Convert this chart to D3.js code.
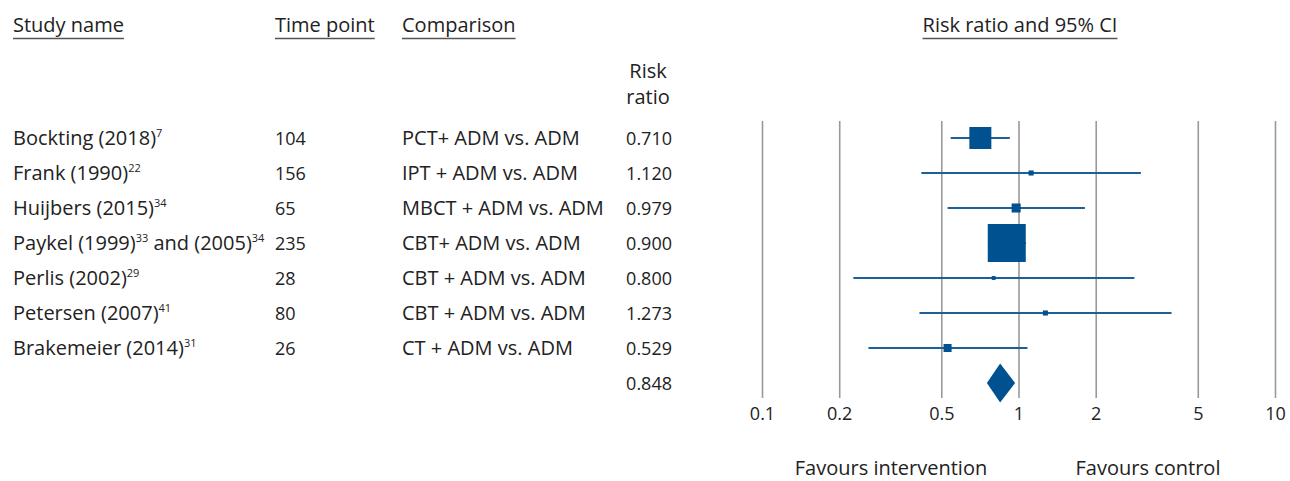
<!DOCTYPE html>
<html>
<head>
<meta charset="utf-8">
<script src="https://cdn.jsdelivr.net/npm/d3@7"></script>
<style>
  body { margin: 0; background: #fff; }
  svg text { font-family: "Open Sans", "Noto Sans", sans-serif; fill: #222; }
</style>
</head>
<body>
<svg id="chart" width="1290" height="481"></svg>
<script>
// study rows
var studies = ['Bockting (2018)', 'Frank (1990)', 'Huijbers (2015)', 'Paykel (1999)', 'Perlis (2002)', 'Petersen (2007)', 'Brakemeier (2014)'];
var refs = ['7', '22', '34', '33', '29', '41', '31'];
var timePoints = ['104', '156', '65', '235', '28', '80', '26'];
var comparisons = ['PCT+ ADM vs. ADM', 'IPT + ADM vs. ADM', 'MBCT + ADM vs. ADM', 'CBT+ ADM vs. ADM', 'CBT + ADM vs. ADM', 'CBT + ADM vs. ADM', 'CT + ADM vs. ADM'];
var riskRatios = [0.710, 1.120, 0.979, 0.900, 0.800, 1.273, 0.529];
var lowerCI = [0.544, 0.418, 0.529, 0.76, 0.227, 0.411, 0.260];
var upperCI = [0.925, 3.00, 1.815, 1.07, 2.83, 3.95, 1.084];
var weights = [22.6, 1.2, 3.8, 67.5, 0.7, 1.2, 3.0];

// pooled estimate
var summaryRR = 0.848;
var summaryLower = 0.753;
var summaryUpper = 0.970;

var axisTicks = [0.1, 0.2, 0.5, 1, 2, 5, 10];

var blue = '#00518f';
var textSize = 20;   // words
var numSize = 18;    // numbers (the original font has narrow digits)
var svg = d3.select('#chart');

var x = d3.scaleLog().domain([0.1, 10]).range([762, 1275]);
var rowKeys = d3.range(studies.length + 1);
var y = d3.scalePoint().domain(rowKeys).range([138, 383]);
var boxSize = d3.scaleSqrt().domain([0, d3.max(weights)]).range([0, 38]);

// column headers with underline
var headers = [
    { text: 'Study name', x: 13, anchor: 'start' },
    { text: 'Time point', x: 275, anchor: 'start' },
    { text: 'Comparison', x: 402, anchor: 'start' },
    { text: 'Risk ratio and 95% CI', x: 1020, anchor: 'middle' }
];
headers.forEach(function (h) {
    var t = svg.append('text').attr('x', h.x).attr('y', 32)
        .attr('font-size', textSize).attr('text-anchor', h.anchor).text(h.text);
    var bb = t.node().getBBox();
    svg.append('line').attr('x1', bb.x).attr('x2', bb.x + bb.width)
        .attr('y1', 38.5).attr('y2', 38.5).attr('stroke', '#555').attr('stroke-width', 1.5);
});

svg.append('text').attr('x', 648).attr('y', 78).attr('text-anchor', 'middle')
    .attr('font-size', textSize).text('Risk');
svg.append('text').attr('x', 648).attr('y', 104).attr('text-anchor', 'middle')
    .attr('font-size', textSize).text('ratio');

// table text
studies.forEach(function (name, i) {
    var yy = y(i) + 7;
    var t = svg.append('text').attr('x', 13).attr('y', yy).attr('font-size', textSize);
    t.append('tspan').text(name);
    t.append('tspan').attr('font-size', 11).attr('dy', -8).text(refs[i]);
    if (i === 3) {
        // Paykel has a second publication
        t.append('tspan').attr('dy', 8).text(' and (2005)');
        t.append('tspan').attr('font-size', 11).attr('dy', -8).text('34');
    }
    svg.append('text').attr('x', 275).attr('y', yy).attr('font-size', numSize).text(timePoints[i]);
    svg.append('text').attr('x', 402).attr('y', yy).attr('font-size', textSize).text(comparisons[i]);
    svg.append('text').attr('x', 672).attr('y', yy).attr('font-size', numSize)
        .attr('text-anchor', 'end').text(riskRatios[i].toFixed(3));
});
svg.append('text').attr('x', 672).attr('y', y(studies.length) + 7).attr('font-size', numSize)
    .attr('text-anchor', 'end').text(summaryRR.toFixed(3));

// gridlines
var grid = svg.append('g').attr('transform', 'translate(0,398)')
    .call(d3.axisBottom(x).tickValues(axisTicks).tickSize(-277).tickFormat(''));
grid.select('.domain').remove();
grid.selectAll('line').attr('stroke', '#999').attr('stroke-width', 1.6);

// tick labels
var ax = svg.append('g').attr('transform', 'translate(0,404)')
    .call(d3.axisBottom(x).tickValues(axisTicks).tickSize(0).tickFormat(d3.format('')));
ax.select('.domain').remove();
ax.selectAll('text').attr('font-size', numSize).attr('fill', '#222')
    .style('font-family', '"Open Sans", "Noto Sans", sans-serif');

// whiskers
svg.selectAll('line.ci').data(studies).enter().append('line').attr('class', 'ci')
    .attr('x1', function (d, i) { return x(lowerCI[i]); })
    .attr('x2', function (d, i) { return x(upperCI[i]); })
    .attr('y1', function (d, i) { return y(i); })
    .attr('y2', function (d, i) { return y(i); })
    .attr('stroke', '#1d5f99').attr('stroke-width', 2.2);

// boxes
svg.selectAll('rect.box').data(studies).enter().append('rect').attr('class', 'box')
    .attr('x', function (d, i) { return x(riskRatios[i]) - boxSize(weights[i]) / 2; })
    .attr('y', function (d, i) { return y(i) - boxSize(weights[i]) / 2; })
    .attr('width', function (d, i) { return boxSize(weights[i]); })
    .attr('height', function (d, i) { return boxSize(weights[i]); })
    .attr('fill', blue);

// summary diamond
var sy = y(studies.length);
svg.append('path')
    .attr('d', 'M' + x(summaryLower) + ',' + sy + 'L' + x(summaryRR) + ',' + (sy - 19.5) +
        'L' + x(summaryUpper) + ',' + sy + 'L' + x(summaryRR) + ',' + (sy + 19.5) + 'Z')
    .attr('fill', blue);

// favours labels
svg.append('text').attr('x', 891).attr('y', 475).attr('text-anchor', 'middle')
    .attr('font-size', textSize).text('Favours intervention');
svg.append('text').attr('x', 1148).attr('y', 475).attr('text-anchor', 'middle')
    .attr('font-size', textSize).text('Favours control');
</script>
</body>
</html>
